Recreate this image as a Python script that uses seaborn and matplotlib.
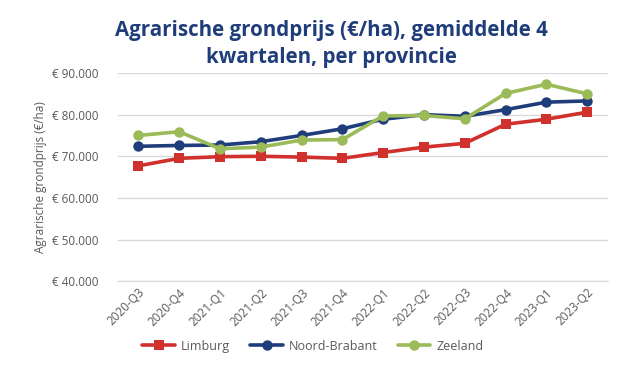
import matplotlib.pyplot as plt
import matplotlib.ticker as mticker
import seaborn as sns
import pandas as pd

# Quarters and average land prices per province (EUR/ha)
kwartalen = ['2020-Q3', '2020-Q4', '2021-Q1', '2021-Q2', '2021-Q3', '2021-Q4',
             '2022-Q1', '2022-Q2', '2022-Q3', '2022-Q4', '2023-Q1', '2023-Q2']
limburg = [67700, 69500, 69900, 70000, 69800, 69500,
           70900, 72200, 73100, 77700, 78900, 80600]
noord_brabant = [72400, 72600, 72700, 73500, 75000, 76600,
                 78900, 80000, 79600, 81200, 83000, 83300]
zeeland = [75000, 75900, 71800, 72200, 73900, 74000,
           79700, 79800, 79000, 85100, 87300, 85000]
provincies = ['Limburg', 'Noord-Brabant', 'Zeeland']

df = pd.DataFrame({
    'kwartaal': kwartalen * 3,
    'prijs': limburg + noord_brabant + zeeland,
    'provincie': [p for p in provincies for _ in kwartalen],
})

kleuren = {'Limburg': '#D0312D', 'Noord-Brabant': '#1F3D7A', 'Zeeland': '#9BBB59'}
markers = {'Limburg': 's', 'Noord-Brabant': 'o', 'Zeeland': 'o'}

sns.set_style('white')
plt.rcParams['font.family'] = ['Open Sans', 'DejaVu Sans']

fig = plt.figure(figsize=(6.26, 3.67), dpi=100)
ax = fig.add_axes([0.1885, 0.234, 0.782, 0.567])

sns.lineplot(data=df, x='kwartaal', y='prijs', hue='provincie', style='provincie',
             palette=kleuren, markers=markers, dashes=False, linewidth=2.6,
             markersize=7.5, markeredgewidth=0, sort=False, ax=ax)

ax.set_ylim(40000, 90000)
ax.set_xlim(-0.5, len(kwartalen) - 0.5)
ax.yaxis.set_major_locator(mticker.MultipleLocator(10000))
ax.yaxis.set_major_formatter(mticker.FuncFormatter(
    lambda v, pos: '€ ' + f'{int(v):,}'.replace(',', '.')))
ax.grid(axis='y', color='#D9D9D9', linewidth=1)
for s in ['top', 'right', 'left']:
    ax.spines[s].set_visible(False)
ax.spines['bottom'].set_color('#D9D9D9')
ax.tick_params(axis='both', length=0, labelsize=8.5, labelcolor='#595959')
ax.tick_params(axis='y', pad=14)
plt.setp(ax.get_xticklabels(), rotation=45, ha='right', rotation_mode='anchor')
ax.set_xlabel('')
ax.set_ylabel('Agrarische grondprijs (€/ha)', fontsize=8.5, color='#595959', labelpad=4)

fig.text(0.53, 0.88, 'Agrarische grondprijs (€/ha), gemiddelde 4\nkwartalen, per provincie',
         ha='center', va='center', fontsize=14.8, fontweight='bold',
         family=['Liberation Sans Narrow', 'Open Sans'],
         color='#1F3D7A', linespacing=1.4)

handles, labels = ax.get_legend_handles_labels()
ax.legend(handles, labels, loc='center', bbox_to_anchor=(0.5, 0.057),
          bbox_transform=fig.transFigure, ncol=3, frameon=False,
          fontsize=9, labelcolor='#595959', handlelength=2.6,
          handletextpad=0.5, columnspacing=1.6)

fig.savefig('out.png', dpi=100)
